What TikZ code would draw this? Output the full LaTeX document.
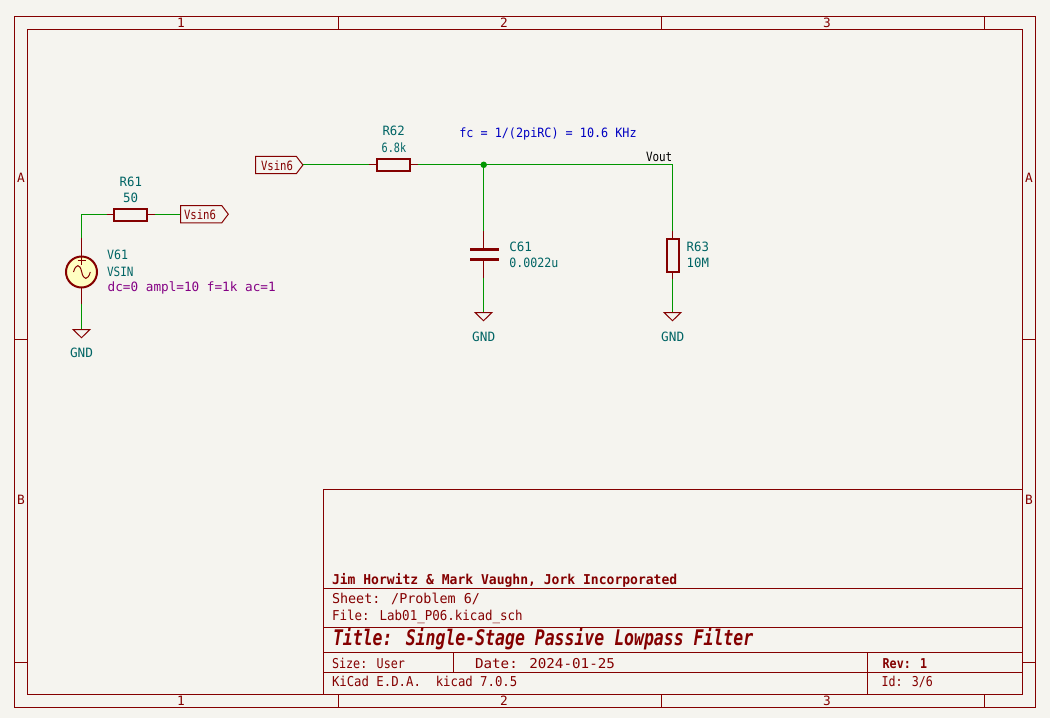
\documentclass[tikz,border=0pt]{standalone}
\usepackage{fontspec}
\usepackage{graphicx}
\setmainfont{DejaVu Sans Mono}
\definecolor{bgc}{HTML}{F5F4EF}
\definecolor{kred}{HTML}{840000}
\definecolor{kwire}{HTML}{009600}
\definecolor{kteal}{HTML}{006464}
\definecolor{kblue}{HTML}{0000C2}
\definecolor{kpurple}{HTML}{840084}
\definecolor{kyellow}{HTML}{FFFFC2}
\newcommand{\fitw}[2]{\resizebox{#1pt}{\height}{#2}}
\tikzset{
  x=1pt,y=-1pt,
  frameline/.style={draw=kred,line width=1pt},
  wire/.style={draw=kwire,line width=1pt},
  pin/.style={draw=kred,line width=1pt},
  body/.style={draw=kred,line width=2pt},
  lbl/.style={inner sep=0pt,outer sep=0pt,anchor=base west,font=\fontsize{12.8pt}{14pt}\selectfont},
  tlbl/.style={lbl,text=kred},
  blk/.style={tlbl,font=\fontsize{13.6pt}{15pt}\selectfont},
  reftxt/.style={lbl,text=kteal},
  resh/.style={body,rectangle,inner sep=0pt,outer sep=0pt,minimum width=32.4pt,minimum height=12pt},
  resv/.style={body,rectangle,inner sep=0pt,outer sep=0pt,minimum width=12pt,minimum height=32.4pt},
  plate/.style={rectangle,fill=kred,inner sep=0pt,outer sep=0pt,minimum width=29pt,minimum height=3pt},
  src/.style={circle,body,fill=kyellow,inner sep=0pt,outer sep=0pt,minimum size=31pt},
  dotj/.style={circle,fill=kwire,inner sep=0pt,outer sep=0pt,minimum size=6.5pt},
  ctr/.style={tlbl,anchor=base},
}
\newcommand{\gndsym}[1]{\draw[pin] (#1) ++(-8.5,0) -- ++(17,0) -- ++(-8.5,8.2) -- cycle;}
\newcommand{\hierlabel}[2]{\draw[pin] (#1) -- ++(#2-6.6,0) -- ++(6.6,8.7) -- ++(-6.6,8.7) -- ++(-#2+6.6,0) -- cycle;}
\begin{document}
\begin{tikzpicture}
\useasboundingbox (0,0) rectangle (1050,718);
\fill[bgc] (0,0) rectangle (1050,718);
% Frame
\coordinate (oTL) at (14.5,16.5); \coordinate (oBR) at (1035.5,707.5);
\coordinate (iTL) at (27.5,29.5); \coordinate (iBR) at (1022.5,694.5);
\draw[frameline] (oTL) rectangle (oBR);
\draw[frameline] (iTL) rectangle (iBR);
\foreach \x in {338.5,661.5,984.5}{
  \draw[frameline] (\x,16.5) -- (\x,29.5);
  \draw[frameline] (\x,694.5) -- (\x,707.5);
}
\foreach \y in {339.5,662.5}{
  \draw[frameline] (14.5,\y) -- (27.5,\y);
  \draw[frameline] (1022.5,\y) -- (1035.5,\y);
}
\foreach \x/\t in {181/1,504/2,827/3}{
  \node[ctr] at (\x,27) {\t};
  \node[ctr] at (\x,705.7) {\t};
}
\foreach \y/\t in {182/A,504.5/B}{
  \node[ctr] at (21,\y) {\t};
  \node[ctr] at (1029,\y) {\t};
}
% Title block
\draw[frameline] (323.5,694.5) -- (323.5,489.5) -- (1022.5,489.5);
\foreach \y in {588.5,627.5,652.5,672.5}{
  \draw[frameline] (323.5,\y) -- (1022.5,\y);
}
\draw[frameline] (453.5,652.5) -- (453.5,672.5);
\draw[frameline] (867.5,652.5) -- (867.5,694.5);
\node[blk] (company) at (332,584) {\fitw{345.3}{\bfseries Jim Horwitz \& Mark Vaughn, Jork Incorporated}};
\node[blk] (sheet) at (332,603.3) {\fitw{148}{Sheet: /Problem 6/}};
\node[blk] (file) at (332,620) {\fitw{190.7}{File: Lab01\_P06.kicad\_sch}};
\node[tlbl,font=\fontsize{21.5pt}{23pt}\selectfont] (title) at (333,645.5) {\fitw{420.3}{\bfseries\itshape Title: Single-Stage Passive Lowpass Filter}};
\node[blk] (size) at (332,668.3) {\fitw{73}{Size: User}};
\node[blk] (date) at (475,668.3) {\fitw{140}{Date: 2024-01-25}};
\node[blk] (kicad) at (332,686) {\fitw{185.3}{KiCad E.D.A.\ \ kicad 7.0.5}};
\node[blk] (rev) at (882.7,668.3) {\fitw{44.5}{\bfseries Rev: 1}};
\node[blk] (id) at (881.5,686) {\fitw{51.5}{Id: 3/6}};
% V61 branch
\node[resh] (R61) at (130.5,214.5) {};
\node[src] (V61) at (81.5,272) {};
\coordinate (p61a) at (106.7,214.5);
\coordinate (p61b) at (155,214.5);
\coordinate (cnr) at (81.5,214.5);
\coordinate (pVtop) at (81.5,238.3);
\coordinate (pVbot) at (81.5,304);
\coordinate (g1) at (81.5,329.5);
\coordinate (h1) at (180.5,205.5);
\coordinate (h1w) at (180.5,214.5);
\draw[pin] (p61a) -- (R61.west);
\draw[pin] (R61.east) -- (p61b);
\draw[pin] (pVtop) -- (V61.north);
\draw[pin] (V61.south) -- (pVbot);
\draw[wire] (p61a) -- (cnr) -- (pVtop);
\draw[wire] (p61b) -- (h1w);
\draw[wire] (pVbot) -- (g1);
\gndsym{g1}
\hierlabel{h1}{47.8}
\draw[pin] (V61.north) -- ++(0,8.3);
\draw[pin] (77.7,260) -- (85.7,260);
\draw[pin,line width=1pt] (73.5,272) .. controls (76,263.5) and (80,263.5) .. (81.7,272) .. controls (83.5,280.5) and (88,280.5) .. (90.3,272);
\node[tlbl] (hl1) at (184,219) {\fitw{32}{Vsin6}};
\node[reftxt] (R61r) at (119.7,186) {\fitw{22.3}{R61}};
\node[reftxt] (R61v) at (123,202) {\fitw{15}{50}};
\node[reftxt] (V61r) at (107,259) {\fitw{21}{V61}};
\node[reftxt] (V61v) at (107,276) {\fitw{26.5}{VSIN}};
\node[lbl,text=kpurple] (V61s) at (107.7,291.7) {\fitw{168}{dc=0 ampl=10 f=1k ac=1}};
\node[reftxt] (G1t) at (70,357.7) {\fitw{23}{GND}};
% Filter
\coordinate (h2) at (255.5,156.3);
\coordinate (h2w) at (302.7,164.5);
\hierlabel{h2}{47.4}
\node[tlbl] (hl2) at (261,170) {\fitw{32}{Vsin6}};
\node[resh] (R62) at (393.5,164.5) {};
\coordinate (p62a) at (369.3,164.5);
\coordinate (p62b) at (417.7,164.5);
\node[dotj] (J) at (483.7,164.8) {};
\coordinate (out) at (672.5,164.5);
\coordinate (jt) at (483.5,164.5);
\draw[pin] (p62a) -- (R62.west);
\draw[pin] (R62.east) -- (p62b);
\draw[wire] (h2w) -- (p62a);
\draw[wire] (p62b) -- (jt) -- (out);
\node[plate] (C61a) at (484.2,249.5) {};
\node[plate] (C61b) at (484.2,259.5) {};
\coordinate (pCt) at (483.5,231);
\coordinate (pCb) at (483.5,278.3);
\coordinate (g2) at (483.5,312.5);
\draw[wire] (jt) -- (pCt);
\draw[pin] (pCt) -- (483.5,249.5);
\draw[pin] (483.5,259.5) -- (pCb);
\draw[wire] (pCb) -- (g2);
\gndsym{g2}
\node[resv] (R63) at (672.5,255.3) {};
\coordinate (pRt) at (672.5,231);
\coordinate (pRb) at (672.5,279.3);
\coordinate (g3) at (672.5,312.5);
\draw[wire] (out) -- (pRt);
\draw[pin] (pRt) -- (R63.north);
\draw[pin] (R63.south) -- (pRb);
\draw[wire] (pRb) -- (g3);
\gndsym{g3}
\node[reftxt] (R62r) at (382.5,135.7) {\fitw{22.3}{R62}};
\node[reftxt] (R62v) at (381.7,152.7) {\fitw{24.5}{6.8k}};
\node[lbl,text=kblue] (fc) at (459.3,137.7) {\fitw{177.4}{fc = 1/(2piRC) = 10.6 KHz}};
\node[lbl,text=black] (vout) at (646,161.7) {\fitw{26.3}{Vout}};
\node[reftxt] (C61r) at (509.3,251) {\fitw{22.7}{C61}};
\node[reftxt] (C61v) at (509.3,267.7) {\fitw{49}{0.0022u}};
\node[reftxt] (R63r) at (686.7,251) {\fitw{22.3}{R63}};
\node[reftxt] (R63v) at (686.7,267.7) {\fitw{22.3}{10M}};
\node[reftxt] (G2t) at (472.2,341.7) {\fitw{23}{GND}};
\node[reftxt] (G3t) at (661.2,341.7) {\fitw{23}{GND}};
\end{tikzpicture}
\end{document}
